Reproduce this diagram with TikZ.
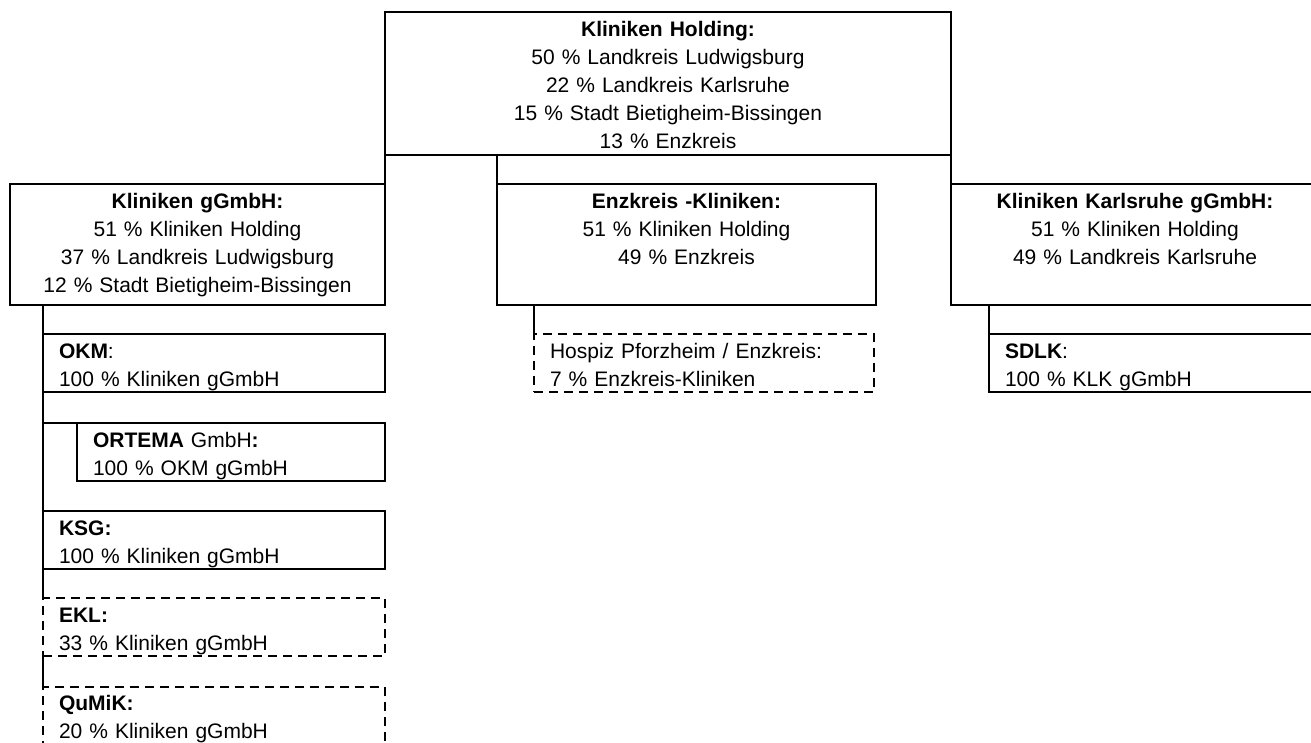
\documentclass[tikz,border=0pt]{standalone}
\usepackage{fontspec}
\setmainfont{Liberation Sans}
\usetikzlibrary{positioning}

\begin{document}
\begin{tikzpicture}[x=1pt,y=-1pt,line width=1.5pt,font=\fontsize{21}{28}\selectfont]
\tikzstyle{orgbox} = [draw,rectangle,inner sep=0pt,outer sep=0pt,text height=24pt,text depth=97pt,align=center]
\tikzstyle{subbox} = [draw,rectangle,inner xsep=16pt,inner ysep=0pt,outer sep=0pt,text height=24pt,text depth=34pt,align=left,text width=310pt]
\tikzstyle{minor} = [dash pattern=on 9pt off 6pt]
    \fill[white] (0,0) rectangle (1311,742);
    \useasboundingbox (0,0) rectangle (1311,742);

    \node[orgbox,anchor=north west,text width=566pt,text depth=119pt] (holding) at (385,12)
        {\textbf{Kliniken Holding:}\\50 \% Landkreis Ludwigsburg\\22 \% Landkreis Karlsruhe\\15 \% Stadt Bietigheim-Bissingen\\13 \% Enzkreis};
    \node[orgbox,text width=375pt] (gmbh) [below left=29pt and 0pt of holding.south west]
        {\textbf{Kliniken gGmbH:}\\51 \% Kliniken Holding\\37 \% Landkreis Ludwigsburg\\12 \% Stadt Bietigheim-Bissingen};
    \node[orgbox,text width=379pt] (enzk) [below right=29pt and 112pt of holding.south west]
        {\textbf{Enzkreis -Kliniken:}\\51 \% Kliniken Holding\\49 \% Enzkreis};
    \node[orgbox,text width=368pt] (klk) [below right=29pt and 0pt of holding.south east]
        {\textbf{Kliniken Karlsruhe gGmbH:}\\51 \% Kliniken Holding\\49 \% Landkreis Karlsruhe};

    \node[subbox] (okm) [below right=29pt and 33pt of gmbh.south west]
        {\textbf{OKM}:\\100 \% Kliniken gGmbH};
    \node[subbox,text width=276pt] (ortema) [below right=31pt and 34pt of okm.south west]
        {\textbf{ORTEMA} GmbH\textbf{:}\\100 \% OKM gGmbH};
    \node[subbox] (ksg) [below right=119pt and 0pt of okm.south west]
        {\textbf{KSG:}\\100 \% Kliniken gGmbH};
    \node[subbox,minor] (ekl) [below right=29pt and 0pt of ksg.south west]
        {\textbf{EKL:}\\33 \% Kliniken gGmbH};
    \node[subbox,minor,text height=23pt] (qumik) [below right=31pt and 0pt of ekl.south west]
        {\textbf{QuMiK:}\\20 \% Kliniken gGmbH};
    \node[subbox,minor,text width=308pt] (hospiz) [below right=29pt and 37pt of enzk.south west]
        {Hospiz Pforzheim / Enzkreis:\\7 \% Enzkreis-Kliniken};
    \node[subbox,text width=313pt] (sdlk) [below right=29pt and 38pt of klk.south west]
        {\textbf{SDLK}:\\100 \% KLK gGmbH};

    \draw (holding.south west) -- (gmbh.north east);
    \draw (enzk.north west |- holding.south) -- (enzk.north west);
    \draw (holding.south east) -- (klk.north west);
    \draw (okm.north west |- gmbh.south) -- (okm.north west);
    \draw (okm.south west) -- (ksg.north west);
    \draw (okm.south west |- ortema.north) -- (ortema.north west);
    \draw (ksg.south west) -- (ekl.north west);
    \draw (ekl.south west) -- (qumik.north west);
    \draw (hospiz.north west |- enzk.south) -- (hospiz.north west);
    \draw (sdlk.north west |- klk.south) -- (sdlk.north west);
\end{tikzpicture}
\end{document}
